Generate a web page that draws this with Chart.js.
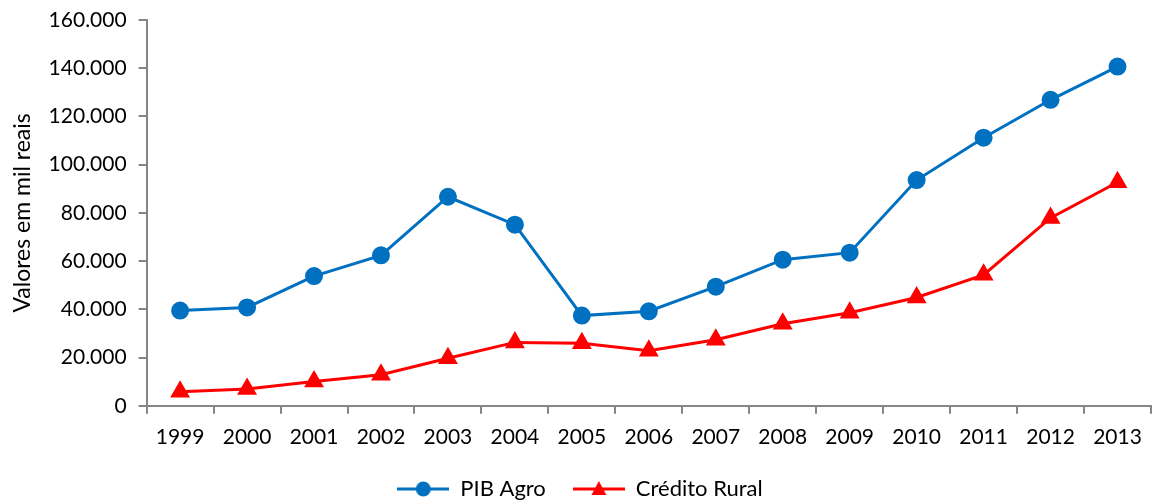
<!DOCTYPE html>
<html>
<head>
<meta charset="utf-8">
<script src="https://cdn.jsdelivr.net/npm/chart.js@4/dist/chart.umd.min.js"></script>
<style>
    html, body { margin: 0; padding: 0; background: #fff; }
    #wrap { width: 1155px; height: 502px; position: relative; }
</style>
</head>
<body>
<div id="wrap"><canvas id="pibChart"></canvas></div>
<script>
const years = ['1999', '2000', '2001', '2002', '2003', '2004', '2005', '2006', '2007', '2008', '2009', '2010', '2011', '2012', '2013'];
const pibAgro = [39500, 40800, 53800, 62400, 86700, 75100, 37400, 39200, 49400, 60600, 63500, 93600, 111200, 126900, 140700];
const creditoRural = [5800, 7000, 10100, 12900, 19700, 26300, 25900, 22800, 27400, 34000, 38600, 44900, 54300, 77900, 92700];
const yTicks = { min: 0, max: 160000, step: 20000 };

const blue = '#0070C0';
const red = '#FF0000';
const axisGray = '#868686';
const font = 'Lato';

// thousands separator with a dot, as in "160.000"
function fmt(v) {
    return String(v).replace(/\B(?=(\d{3})+(?!\d))/g, '.');
}

// small image for the legend: a line segment with the marker on top
function legendSymbol(color, shape) {
    const c = document.createElement('canvas');
    c.width = 52;
    c.height = 18;
    const ctx = c.getContext('2d');
    ctx.strokeStyle = color;
    ctx.lineWidth = 3;
    ctx.beginPath();
    ctx.moveTo(0, 9);
    ctx.lineTo(52, 9);
    ctx.stroke();
    ctx.fillStyle = color;
    ctx.beginPath();
    if (shape === 'circle') {
        ctx.arc(26, 9, 7.5, 0, Math.PI * 2);
    } else {
        ctx.moveTo(26, 1);
        ctx.lineTo(33.5, 15);
        ctx.lineTo(18.5, 15);
        ctx.closePath();
    }
    ctx.fill();
    return c;
}

const symbols = [legendSymbol(blue, 'circle'), legendSymbol(red, 'triangle')];

new Chart(document.getElementById('pibChart').getContext('2d'), {
    type: 'line',
    data: {
        labels: years,
        datasets: [
            {
                label: 'PIB Agro',
                data: pibAgro,
                borderColor: blue,
                backgroundColor: blue,
                borderWidth: 3,
                pointStyle: 'circle',
                pointRadius: 7.5,
                pointHoverRadius: 7.5,
                tension: 0
            },
            {
                label: 'Crédito Rural',
                data: creditoRural,
                borderColor: red,
                backgroundColor: red,
                borderWidth: 3,
                pointStyle: 'triangle',
                pointRadius: 8.5,
                pointHoverRadius: 8.5,
                tension: 0
            }
        ]
    },
    options: {
        responsive: true,
        maintainAspectRatio: false,
        animation: false,
        layout: {
            autoPadding: false,
            padding: { top: 20, right: 4, left: 9, bottom: -8 }
        },
        plugins: {
            tooltip: { enabled: false },
            legend: {
                position: 'bottom',
                labels: {
                    usePointStyle: true,
                    pointStyleWidth: 52,
                    padding: 27,
                    color: '#000',
                    font: { family: font, size: 22 },
                    generateLabels: chart => chart.data.datasets.map((ds, i) => ({
                        text: ds.label,
                        pointStyle: symbols[i],
                        fillStyle: ds.borderColor,
                        strokeStyle: ds.borderColor,
                        lineWidth: 0,
                        fontColor: '#000',
                        datasetIndex: i,
                        hidden: false
                    }))
                }
            }
        },
        scales: {
            x: {
                offset: true,
                grid: {
                    offset: true,
                    drawOnChartArea: false,
                    drawTicks: true,
                    tickLength: 8,
                    color: axisGray,
                    lineWidth: 2
                },
                border: { color: axisGray, width: 2 },
                ticks: {
                    color: '#000',
                    padding: 11,
                    font: { family: font, size: 21 },
                    maxRotation: 0
                },
                // the legend's item padding already leaves a gap above it
                afterFit: scale => {
                    scale.height -= 10;
                    scale.paddingRight = 0;
                    scale.paddingLeft = 0;
                }
            },
            y: {
                min: yTicks.min,
                max: yTicks.max,
                grid: {
                    drawOnChartArea: false,
                    drawTicks: true,
                    tickLength: 8,
                    color: axisGray,
                    lineWidth: 2
                },
                border: { color: axisGray, width: 2 },
                ticks: {
                    stepSize: yTicks.step,
                    color: '#000',
                    padding: 12,
                    font: { family: font, size: 21 },
                    callback: v => fmt(v)
                },
                afterFit: scale => {
                    scale.paddingTop = 0;
                },
                title: {
                    display: true,
                    text: 'Valores em mil reais',
                    color: '#000',
                    padding: { top: 0, bottom: 0 },
                    font: { family: font, size: 23 }
                }
            }
        }
    }
});
</script>
</body>
</html>
